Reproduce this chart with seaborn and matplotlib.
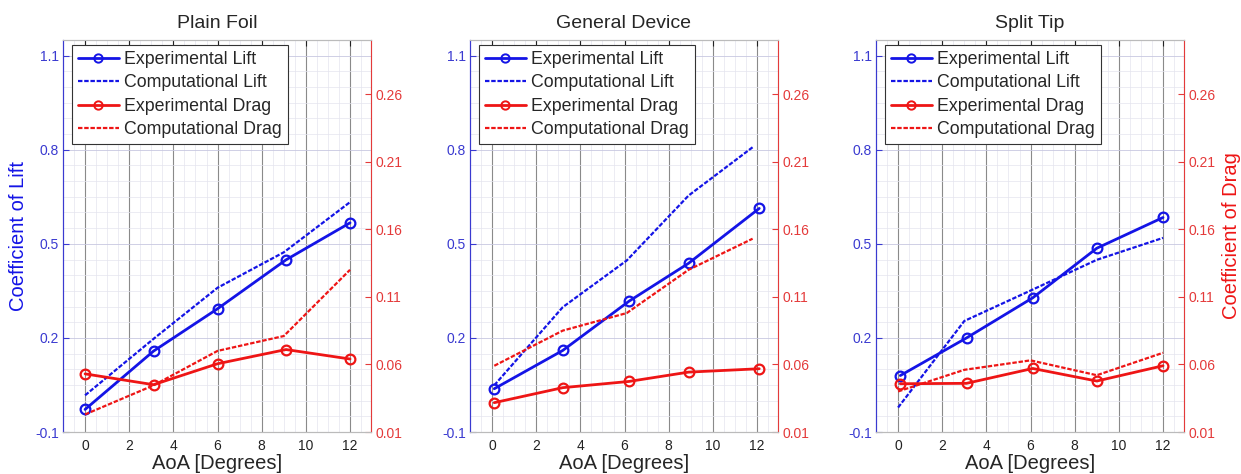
import matplotlib
matplotlib.use("Agg")
import matplotlib.pyplot as plt
from matplotlib.ticker import MultipleLocator
from matplotlib.lines import Line2D
import seaborn as sns
import pandas as pd

sns.set_style("white")
plt.rcParams['font.family'] = ['Liberation Sans', 'DejaVu Sans']

titles = ["Plain Foil", "General Device", "Split Tip"]

# x (AoA) positions per panel
aoa_plain = [0, 3.1, 6.0, 9.1, 12.0]
aoa_general = [0.1, 3.2, 6.2, 8.9, 12.1]
aoa_split = [0.1, 3.1, 6.1, 9.0, 12.0]
aoa_comp_plain = [0, 3.1, 6.0, 9.0, 12.0]
aoa_comp_general = [0.1, 3.2, 6.1, 8.9, 11.8]
aoa_comp_split = [0.0, 3.0, 6.0, 9.0, 12.0]

exp_lift_plain = [-0.028, 0.158, 0.293, 0.449, 0.567]
comp_lift_plain = [0.017, 0.197, 0.360, 0.473, 0.633]
exp_drag_plain = [0.053, 0.045, 0.0605, 0.071, 0.064]
comp_drag_plain = [0.023, 0.0445, 0.070, 0.081, 0.130]

exp_lift_general = [0.038, 0.160, 0.317, 0.438, 0.613]
comp_lift_general = [0.049, 0.298, 0.447, 0.654, 0.808]
exp_drag_general = [0.0317, 0.0428, 0.0474, 0.0543, 0.0568]
comp_drag_general = [0.059, 0.085, 0.098, 0.130, 0.153]

exp_lift_split = [0.080, 0.200, 0.328, 0.486, 0.584]
comp_lift_split = [-0.022, 0.254, 0.351, 0.449, 0.519]
exp_drag_split = [0.0457, 0.046, 0.057, 0.0477, 0.059]
comp_drag_split = [0.040, 0.056, 0.063, 0.052, 0.0686]

lift_ticks = [-0.1, 0.2, 0.5, 0.8, 1.1]
drag_ticks = [0.01, 0.06, 0.11, 0.16, 0.21, 0.26]
x_ticks = [0, 2, 4, 6, 8, 10, 12]

panels = [
    (aoa_plain, aoa_comp_plain, exp_lift_plain, comp_lift_plain, exp_drag_plain, comp_drag_plain),
    (aoa_general, aoa_comp_general, exp_lift_general, comp_lift_general, exp_drag_general, comp_drag_general),
    (aoa_split, aoa_comp_split, exp_lift_split, comp_lift_split, exp_drag_split, comp_drag_split),
]

BLUE = "#1414e6"
RED = "#ee1515"
BLUE_T = "#3a3ad0"
RED_T = "#e43a3a"

fig = plt.figure(figsize=(12.41, 4.74), dpi=100)
lefts = [63 / 1241, 470 / 1241, 876 / 1241]
width = 308 / 1241
bottom = 1 - 432 / 474
height = 392 / 474

dash = (0, (2.0, 0.8))

for i, (title, data) in enumerate(zip(titles, panels)):
    xe, xc, el, cl, ed, cd = data
    ax = fig.add_axes([lefts[i], bottom, width, height])
    ax2 = ax.twinx()

    df_el = pd.DataFrame({"x": xe, "y": el})
    df_cl = pd.DataFrame({"x": xc, "y": cl})
    df_ed = pd.DataFrame({"x": xe, "y": ed})
    df_cd = pd.DataFrame({"x": xc, "y": cd})

    sns.lineplot(data=df_el, x="x", y="y", ax=ax, color=BLUE, lw=2.0, marker="o",
                 markersize=7, markerfacecolor="none", markeredgecolor=BLUE,
                 markeredgewidth=1.6, zorder=4)
    sns.lineplot(data=df_cl, x="x", y="y", ax=ax, color=BLUE, lw=1.6, linestyle=dash, zorder=3)
    sns.lineplot(data=df_ed, x="x", y="y", ax=ax2, color=RED, lw=2.0, marker="o",
                 markersize=7, markerfacecolor="none", markeredgecolor=RED,
                 markeredgewidth=1.6, zorder=4)
    sns.lineplot(data=df_cd, x="x", y="y", ax=ax2, color=RED, lw=1.6, linestyle=dash, zorder=3)

    ax.set_xlim(-1.0, 12.95)
    ax.set_ylim(-0.1, 1.15)
    ax2.set_ylim(0.01, 0.30)
    ax.set_xticks(x_ticks)
    ax.set_yticks(lift_ticks)
    ax.set_yticklabels([f"{v:g}" for v in lift_ticks])
    ax2.set_yticks(drag_ticks)
    ax2.set_yticklabels([f"{v:g}" for v in drag_ticks])
    ax.xaxis.set_minor_locator(MultipleLocator(0.5))
    ax.yaxis.set_minor_locator(MultipleLocator(0.05))

    ax.grid(True, which="major", axis="x", color="#8a8a8a", lw=0.8)
    ax.grid(True, which="major", axis="y", color="#c8c8e0", lw=0.6)
    ax.grid(True, which="minor", color="#e4e4ee", lw=0.5)
    ax.set_axisbelow(True)

    ax.tick_params(axis="x", direction="in", length=4, labelsize=10, colors="#222222",
                   top=True, pad=5)
    ax.tick_params(axis="x", which="minor", length=0)
    ax.tick_params(axis="y", which="minor", length=0)
    ax.tick_params(axis="y", direction="in", length=4, labelsize=10, colors=BLUE_T, pad=3)
    ax2.tick_params(axis="y", direction="in", length=4, labelsize=10, colors=RED_T, pad=3)

    for sp in ax.spines.values():
        sp.set_color("#bbbbbb")
        sp.set_linewidth(0.8)
    ax.spines["left"].set_color(BLUE_T)
    ax2.spines["left"].set_color(BLUE_T)
    ax2.spines["right"].set_color(RED_T)
    ax2.spines["top"].set_color("#bbbbbb")
    ax2.spines["bottom"].set_color("#bbbbbb")
    for sp in ax2.spines.values():
        sp.set_linewidth(0.8)

    ax.set_title(title, fontsize=14, pad=9)
    ax.set_xlabel("AoA [Degrees]", fontsize=14.5, labelpad=1)
    if i == 0:
        ax.set_ylabel("Coefficient of Lift", fontsize=14.5, color=BLUE, labelpad=5)
    else:
        ax.set_ylabel("")
    if i == 2:
        ax2.set_ylabel("Coefficient of Drag", fontsize=14.5, color=RED, labelpad=5)
    else:
        ax2.set_ylabel("")

    handles = [
        Line2D([], [], color=BLUE, lw=2.0, marker="o", markersize=6, mfc="none", mew=1.4),
        Line2D([], [], color=BLUE, lw=1.6, linestyle=dash),
        Line2D([], [], color=RED, lw=2.0, marker="o", markersize=6, mfc="none", mew=1.4),
        Line2D([], [], color=RED, lw=1.6, linestyle=dash),
    ]
    labels = ["Experimental Lift", "Computational Lift", "Experimental Drag", "Computational Drag"]
    leg = ax2.legend(handles, labels, loc="upper left", bbox_to_anchor=(0.028, 0.988),
                     fontsize=12.8, frameon=True, fancybox=False, edgecolor="#333333",
                     framealpha=1, handlelength=2.3, handletextpad=0.3,
                     labelspacing=0.36, borderpad=0.35, borderaxespad=0)
    leg.get_frame().set_linewidth(0.8)

fig.savefig("out.png", dpi=100)
